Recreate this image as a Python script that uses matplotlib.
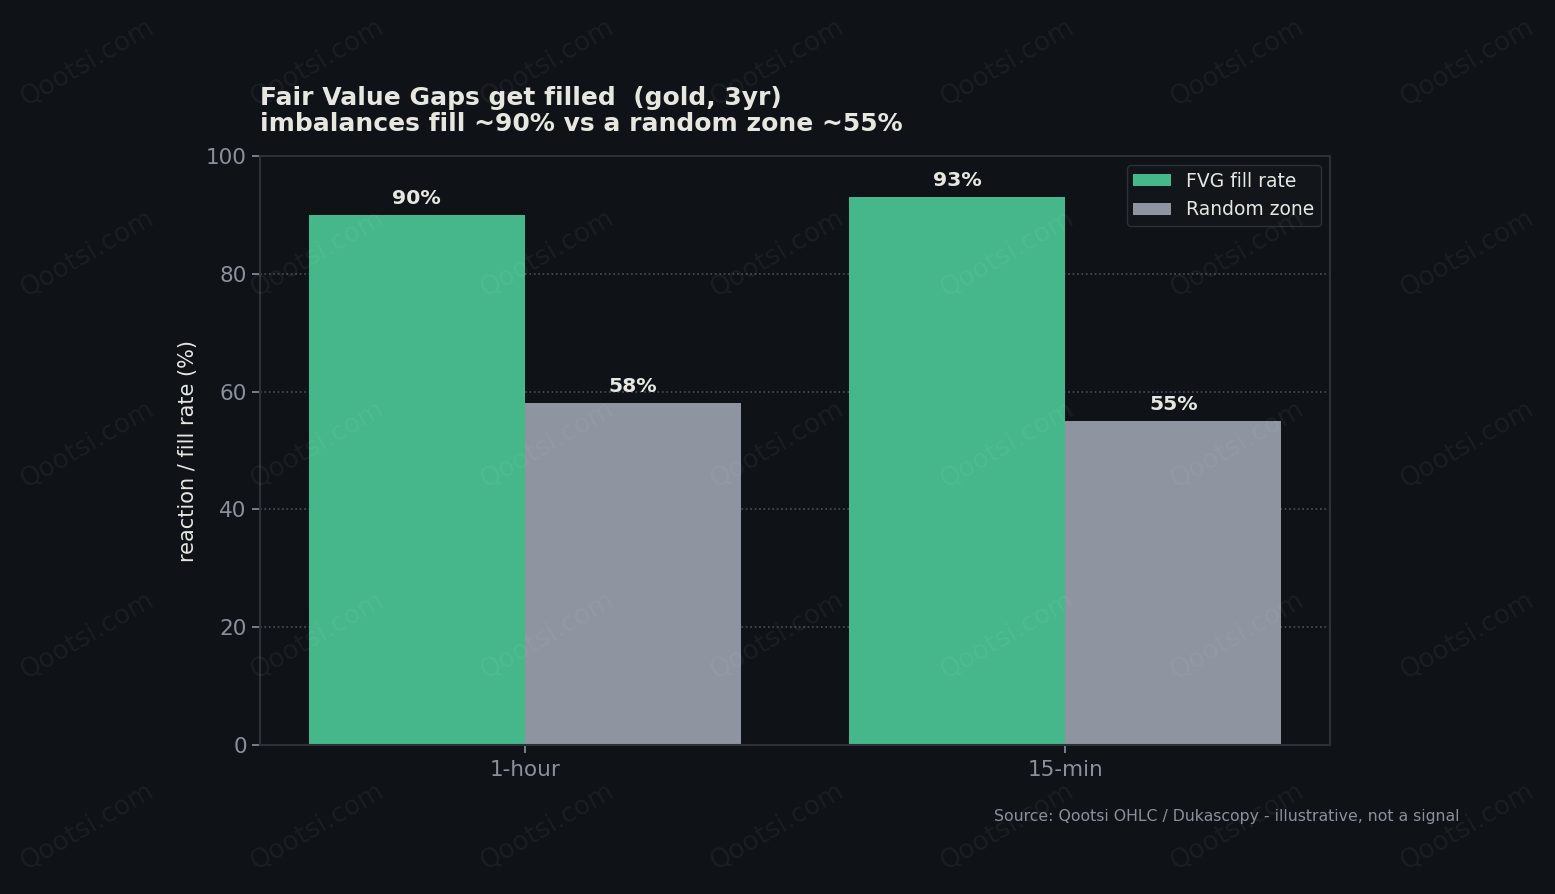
import matplotlib
matplotlib.use("Agg")
from matplotlib import pyplot as plt
import numpy as np

categories = ["1-hour", "15-min"]
fvg_fill = [90, 93]
random_fill = [58, 55]
series_names = ["FVG fill rate", "Random zone"]

bg = "#0f1217"
green = "#45b78a"
grey = "#8e94a0"
txt = "#e8e6e1"
muted = "#8b919c"
spine = "#2c3038"

fig = plt.figure(figsize=(15.55, 8.94), dpi=100, facecolor=bg)
ax = fig.add_axes([260/1555, 1-745/894, (1330-260)/1555, (745-156)/894])
ax.set_facecolor(bg)

# watermark
for wx in np.arange(87, 1555, 230):
    for wy in np.arange(63, 894, 191):
        fig.text(wx/1555, 1-wy/894, "Qootsi.com", rotation=30, color="#ffffff", alpha=0.05,
                 fontsize=19, ha="center", va="center", zorder=0)

x = np.arange(len(categories))
w = 0.4
b1 = ax.bar(x - w/2, fvg_fill, w, color=green, label=series_names[0], zorder=2)
b2 = ax.bar(x + w/2, random_fill, w, color=grey, label=series_names[1], zorder=2)

for bars in (b1, b2):
    for r in bars:
        ax.text(r.get_x() + r.get_width()/2, r.get_height() + 1.2, f"{r.get_height():.0f}%",
                ha="center", va="bottom", color=txt, fontsize=14.7, fontweight="bold", zorder=3)

ax.set_ylim(0, 100)
ax.set_xticks(x)
ax.set_xticklabels(categories)
ax.tick_params(colors=muted, labelsize=15.5, length=6, width=1.2)
ax.tick_params(axis="x", pad=5)
for s in ax.spines.values():
    s.set_color(spine)
    s.set_linewidth(1.5)
ax.yaxis.grid(True, linestyle=":", color="#5a5f68", linewidth=1.2, alpha=0.8, zorder=1)
ax.set_axisbelow(True)
ax.set_ylabel("reaction / fill rate (%)", color=txt, fontsize=15, labelpad=6)

ax.set_title("Fair Value Gaps get filled  (gold, 3yr)\nimbalances fill ~90% vs a random zone ~55%",
             loc="left", color=txt, fontsize=18, fontweight="bold", pad=18, linespacing=1.12)

leg = ax.legend(loc="upper right", fontsize=13.5, facecolor="#12151a", edgecolor=spine,
                labelcolor=txt, framealpha=1, handlelength=2.0, handleheight=0.6, borderpad=0.35)

fig.text(1460/1555, 1-817/894, "Source: Qootsi OHLC / Dukascopy - illustrative, not a signal",
         ha="right", va="center", color=muted, fontsize=11.3)

fig.savefig("out.png", facecolor=bg, dpi=100)
